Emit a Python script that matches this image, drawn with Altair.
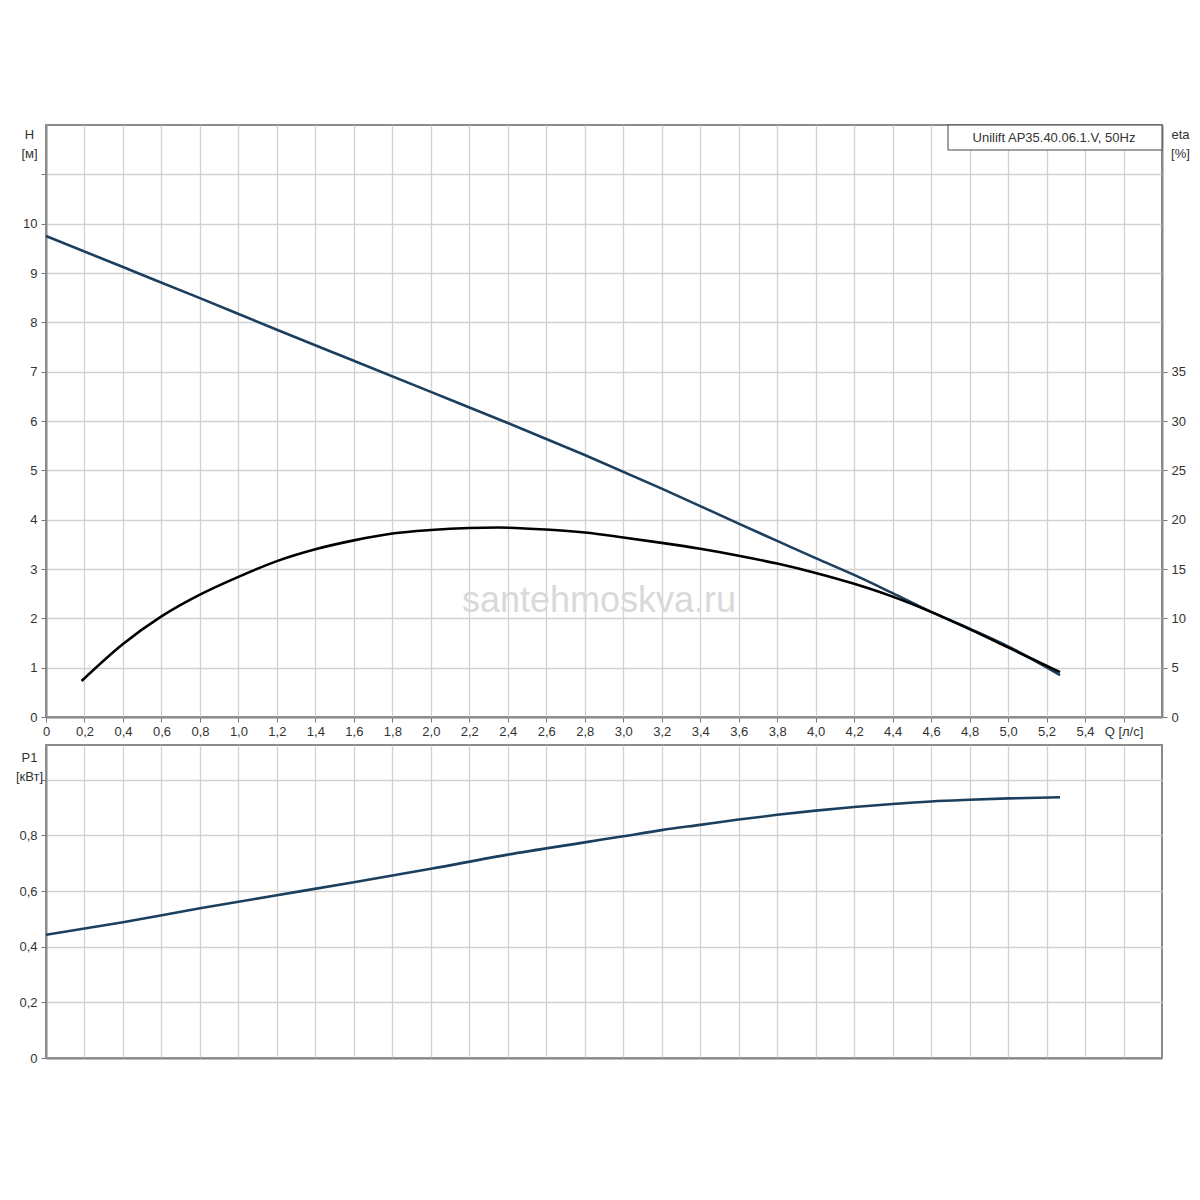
import altair as alt
import pandas as pd

# ---- data ----
q_h = [0.0, 0.4, 0.8, 1.2, 1.6, 2.0, 2.4, 2.8, 3.2, 3.6, 3.8, 4.0, 4.2, 4.4, 4.6, 4.8, 5.0, 5.27]
h_vals = [9.75, 9.12, 8.49, 7.85, 7.22, 6.59, 5.96, 5.31, 4.63, 3.92, 3.57, 3.22, 2.88, 2.51, 2.13, 1.79, 1.43, 0.85]

q_eta = [0.185, 0.4, 0.6, 0.8, 1.0, 1.2, 1.4, 1.6, 1.8, 2.0, 2.2, 2.35, 2.6, 2.8, 3.0, 3.2, 3.4, 3.6, 3.8, 4.0, 4.2, 4.4, 4.6, 4.8, 5.0, 5.27]
eta_vals = [3.65, 7.4, 10.2, 12.4, 14.2, 15.8, 17.0, 17.9, 18.6, 18.95, 19.15, 19.2, 19.0, 18.7, 18.2, 17.65, 17.05, 16.35, 15.55, 14.6, 13.5, 12.2, 10.65, 8.9, 7.05, 4.55]

q_p = [0.0, 0.4, 0.8, 1.2, 1.6, 2.0, 2.4, 2.8, 3.0, 3.2, 3.4, 3.6, 3.8, 4.0, 4.2, 4.4, 4.6, 4.8, 5.0, 5.27]
p_vals = [0.443, 0.488, 0.538, 0.585, 0.632, 0.680, 0.731, 0.775, 0.797, 0.819, 0.838, 0.857, 0.874, 0.889, 0.902, 0.913, 0.922, 0.928, 0.933, 0.937]

x_ticks = [0.0, 0.2, 0.4, 0.6, 0.8, 1.0, 1.2, 1.4, 1.6, 1.8, 2.0, 2.2, 2.4, 2.6, 2.8,
           3.0, 3.2, 3.4, 3.6, 3.8, 4.0, 4.2, 4.4, 4.6, 4.8, 5.0, 5.2, 5.4, 5.6]
h_ticks = [0, 1, 2, 3, 4, 5, 6, 7, 8, 9, 10, 11]
eta_ticks = [0, 5, 10, 15, 20, 25, 30, 35]
p_ticks = [0.0, 0.2, 0.4, 0.6, 0.8, 1.0]

model_label = "Unilift AP35.40.06.1.V, 50Hz"
watermark = "santehmoskva.ru"
q_title = "\u00a0\u00a0\u00a0\u00a0\u00a0\u00a0Q [л/с]"

df_h = pd.DataFrame({"Q": q_h, "H": h_vals})
df_eta = pd.DataFrame({"Q": q_eta, "eta": eta_vals})
df_p = pd.DataFrame({"Q": q_p, "P1": p_vals})

FONT = "Liberation Sans"
W = 1116
LINE_BLUE = "#1b3f5e"

x_label_expr = ("datum.value > 5.5 ? '" + q_title + "' : "
                "datum.value == 0 ? '0' : replace(format(datum.value, '.1f'), '.', ',')")

x_scale = alt.Scale(domain=[0, 5.8], nice=False, zero=False)

x_axis_top = alt.Axis(values=x_ticks, labelExpr=x_label_expr, title=None,
                      labelOverlap=False, labelFlush=False, tickSize=5,
                      labelPadding=3)

h_line = alt.Chart(df_h).mark_line(color=LINE_BLUE, strokeWidth=2.6, interpolate="monotone").encode(
    x=alt.X("Q:Q", scale=x_scale, axis=x_axis_top),
    y=alt.Y("H:Q", scale=alt.Scale(domain=[0, 12], nice=False),
            axis=alt.Axis(orient="left", values=h_ticks,
                          labelExpr="datum.value > 10.5 ? '' : datum.label",
                          title=["H", "[м]"], titleAngle=0, titleAlign="center",
                          titleBaseline="top", titleX=-17, titleY=3,
                          titleLineHeight=19, tickSize=5, labelPadding=4)),
)

eta_line = alt.Chart(df_eta).mark_line(color="#000000", strokeWidth=2.6, interpolate="monotone").encode(
    x=alt.X("Q:Q", scale=x_scale, axis=x_axis_top),
    y=alt.Y("eta:Q", scale=alt.Scale(domain=[0, 60], nice=False),
            axis=alt.Axis(orient="right", values=eta_ticks, grid=False,
                          title=["eta", "[%]"], titleAngle=0, titleAlign="center",
                          titleBaseline="top", titleX=18, titleY=3,
                          titleLineHeight=19, tickSize=5, labelPadding=4)),
)

wm = alt.Chart(pd.DataFrame({"t": [watermark]})).mark_text(
    font=FONT, fontSize=36, color="#d9d9d9", align="center", baseline="middle"
).encode(text="t:N", x=alt.value(553), y=alt.value(476))

box = alt.Chart(pd.DataFrame({"t": [model_label]})).mark_rect(
    fill="white", stroke="#444444", strokeWidth=1
).encode(x=alt.value(902), x2=alt.value(W), y=alt.value(0), y2=alt.value(25))

box_text = alt.Chart(pd.DataFrame({"t": [model_label]})).mark_text(
    font=FONT, fontSize=13, color="#333333", align="center", baseline="middle"
).encode(text="t:N", x=alt.value(1008), y=alt.value(13))

top = alt.layer(wm, h_line, eta_line, box, box_text).resolve_scale(y="independent").properties(
    width=W, height=592)

p_line = alt.Chart(df_p).mark_line(color=LINE_BLUE, strokeWidth=2.6, interpolate="monotone").encode(
    x=alt.X("Q:Q", scale=x_scale,
            axis=alt.Axis(values=x_ticks, labels=False, ticks=False, title=None)),
    y=alt.Y("P1:Q", scale=alt.Scale(domain=[0, 1.125], nice=False),
            axis=alt.Axis(values=p_ticks,
                          labelExpr="datum.value == 0 ? '0' : datum.value > 0.9 ? '' : replace(format(datum.value, '.1f'), '.', ',')",
                          title=["P1", "[кВт]"], titleAngle=0, titleAlign="center",
                          titleBaseline="top", titleX=-17, titleY=6,
                          titleLineHeight=19, tickSize=5, labelPadding=4)),
)

bottom = p_line.properties(width=W, height=313)

chart = alt.vconcat(top, bottom, spacing=5).properties(
    padding={"left": 6, "top": 115, "right": 0, "bottom": 5},
    background="white",
).configure_view(
    stroke="#8a8a8a", strokeWidth=2
).configure_axis(
    labelFont=FONT, labelFontSize=13, labelColor="#333333",
    titleFont=FONT, titleFontSize=13, titleFontWeight="normal", titleColor="#333333",
    gridColor="#d2d2d2", gridWidth=1.3, tickColor="#777777",
    domainColor="#8a8a8a", domainWidth=2, labelOverlap=False
)

chart.save("out.html", embed_options={"renderer": "svg", "actions": False})
